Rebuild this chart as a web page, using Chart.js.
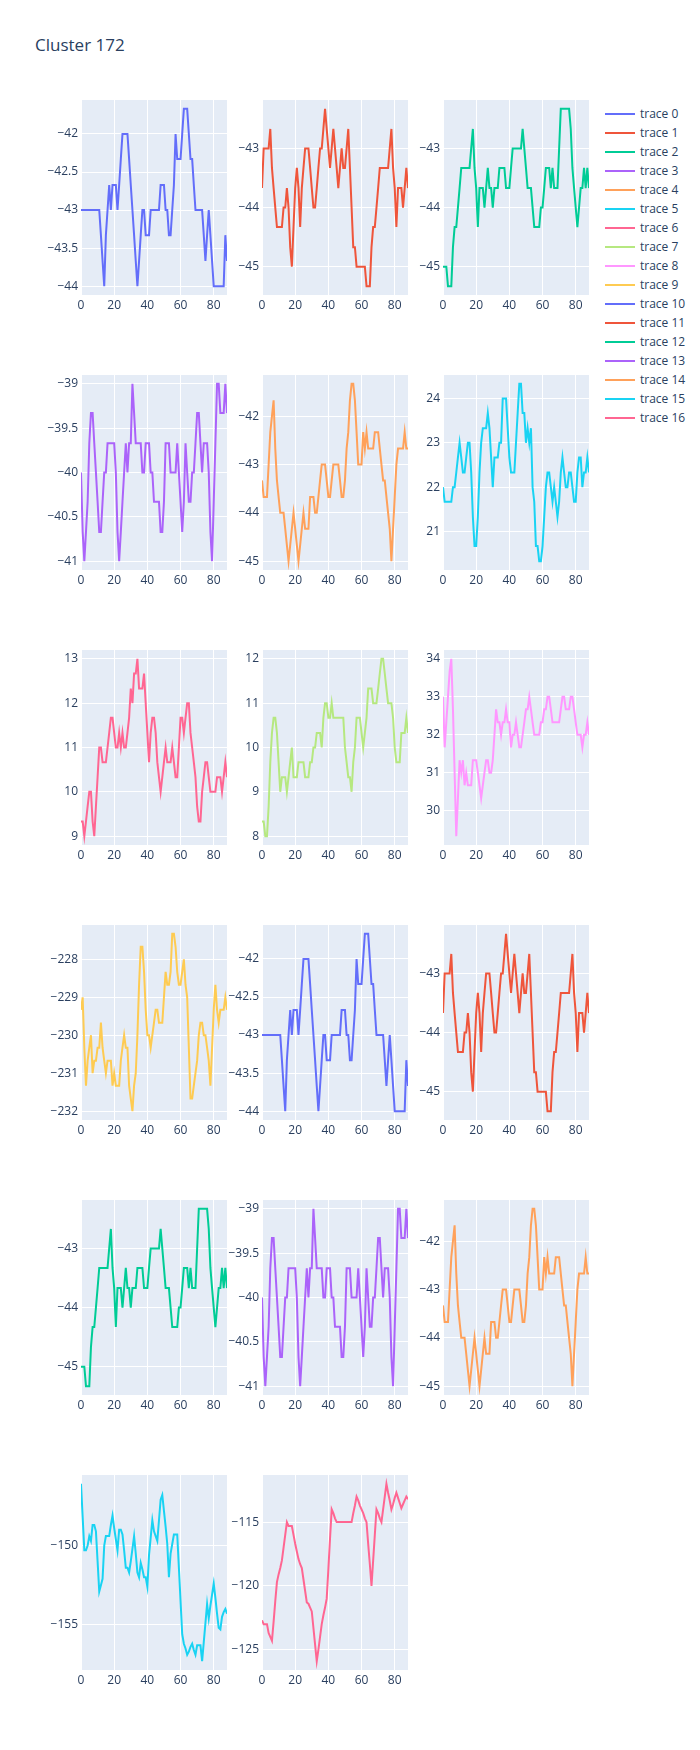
<!DOCTYPE html>
<html>
<head>
<meta charset="utf-8">
<script src="https://cdn.jsdelivr.net/npm/chart.js@4.4.1/dist/chart.umd.min.js"></script>
<style>
  body { margin: 0; background: #fff; font-family: "Open Sans", sans-serif; }
  #page { position: relative; width: 700px; height: 1750px; overflow: hidden; }
  #title { position: absolute; left: 35px; top: 33px; font-size: 17px; line-height: 24px; color: #2a3f5f; }
  .cell { position: absolute; }
  .legline { position: absolute; left: 605px; width: 30px; height: 2px; }
  .legtext { position: absolute; left: 640px; font-size: 12px; line-height: 18px; color: #2a3f5f; white-space: nowrap; }
</style>
</head>
<body>
<div id="page">
  <div id="title">Cluster 172</div>
</div>
<script>
// x positions 0..88, one per sample
const steps = Array.from({ length: 89 }, (_, i) => i);
const xTicks = [0, 20, 40, 60, 80];

const traceNames = ['trace 0', 'trace 1', 'trace 2', 'trace 3', 'trace 4', 'trace 5', 'trace 6', 'trace 7', 'trace 8',
  'trace 9', 'trace 10', 'trace 11', 'trace 12', 'trace 13', 'trace 14', 'trace 15', 'trace 16'];
const traceColors = ['#636efa', '#EF553B', '#00cc96', '#ab63fa', '#FFA15A', '#19d3f3', '#FF6692', '#B6E880', '#FF97FF',
  '#FECB52', '#636efa', '#EF553B', '#00cc96', '#ab63fa', '#FFA15A', '#19d3f3', '#FF6692'];
const yTickSteps = [0.5, 1, 1, 0.5, 1, 1, 1, 1, 1, 1, 0.5, 1, 1, 0.5, 1, 5, 5];

const trace0 = [
  -43, -43, -43, -43, -43, -43, -43, -43, -43, -43,
  -43, -43, -43.33, -43.67, -44, -43.33, -43, -42.67, -43, -42.67,
  -42.67, -42.67, -43, -42.67, -42.33, -42, -42, -42, -42, -42.33,
  -42.67, -43, -43.33, -43.67, -44, -43.67, -43.33, -43, -43, -43.33,
  -43.33, -43.33, -43, -43, -43, -43, -43, -43, -42.67, -42.67,
  -42.67, -43, -43, -43.33, -43.33, -43, -42.67, -42, -42.33, -42.33,
  -42.33, -42, -41.67, -41.67, -41.67, -42, -42.33, -42.33, -42.67, -43,
  -43, -43, -43, -43, -43.33, -43.67, -43.33, -43, -43.33, -43.67,
  -44, -44, -44, -44, -44, -44, -44, -43.33, -43.67
];
const trace1 = [
  -43.67, -43, -43, -43, -43, -42.67, -43.33, -43.67, -44, -44.33,
  -44.33, -44.33, -44.33, -44, -44, -43.67, -44, -44.67, -45, -44.33,
  -43.67, -43.33, -43.67, -44.33, -43.67, -43.33, -43, -43, -43, -43.33,
  -43.67, -44, -44, -43.67, -43.33, -43, -43, -42.67, -42.33, -42.67,
  -43, -43.33, -43, -42.67, -43, -43.33, -43.67, -43.33, -43, -43.33,
  -43.33, -43, -42.67, -43.33, -44, -44.67, -44.67, -45, -45, -45,
  -45, -45, -45, -45.33, -45.33, -45.33, -44.67, -44.33, -44.33, -44,
  -43.67, -43.33, -43.33, -43.33, -43.33, -43.33, -43.33, -43, -42.67, -43.33,
  -43.67, -44.33, -43.67, -43.67, -43.67, -44, -43.67, -43.33, -43.67
];
const trace2 = [
  -45, -45, -45, -45.33, -45.33, -45.33, -44.67, -44.33, -44.33, -44,
  -43.67, -43.33, -43.33, -43.33, -43.33, -43.33, -43.33, -43, -42.67, -43.33,
  -43.67, -44.33, -43.67, -43.67, -43.67, -44, -43.67, -43.33, -43.67, -43.67,
  -44, -43.67, -43.67, -43.67, -43.33, -43.33, -43.33, -43.33, -43.67, -43.67,
  -43.67, -43.33, -43, -43, -43, -43, -43, -43, -42.67, -43,
  -43.33, -43.67, -43.67, -43.67, -44, -44.33, -44.33, -44.33, -44.33, -44,
  -44, -43.67, -43.33, -43.33, -43.33, -43.67, -43.33, -43.67, -43.67, -43.67,
  -43, -42.33, -42.33, -42.33, -42.33, -42.33, -42.33, -42.67, -43.33, -43.67,
  -44, -44.33, -44, -43.67, -43.67, -43.33, -43.67, -43.33, -43.67
];
const trace3 = [
  -40, -40.67, -41, -40.67, -40.33, -39.67, -39.33, -39.33, -39.67, -40,
  -40.33, -40.67, -40.67, -40.33, -40, -40, -39.67, -39.67, -39.67, -39.67,
  -39.67, -40, -40.67, -41, -40.67, -40.33, -40, -39.67, -40, -39.67,
  -39.67, -39, -39.33, -39.67, -39.67, -39.67, -39.67, -40, -40, -39.67,
  -39.67, -39.67, -40, -40, -40.33, -40.33, -40.33, -40.33, -40.67, -40.67,
  -40.33, -39.67, -39.67, -39.67, -40, -40, -40, -40, -39.67, -40,
  -40.33, -40.67, -40.33, -39.67, -40, -40.33, -40.33, -40, -40, -39.67,
  -39.33, -39.33, -39.67, -40, -39.67, -39.67, -39.67, -40, -40.67, -41,
  -40.33, -39.67, -39, -39, -39.33, -39.33, -39.33, -39, -39.33
];
const trace4 = [
  -43.33, -43.67, -43.67, -43.67, -43, -42.33, -42, -41.67, -42.67, -43.33,
  -43.67, -44, -44, -44, -44.33, -44.67, -45, -44.67, -44.33, -44,
  -44.33, -44.67, -45, -44.67, -44.33, -44, -44.33, -44.33, -44.33, -43.67,
  -43.67, -43.67, -44, -44, -43.67, -43.33, -43, -43, -43, -43.33,
  -43.67, -43.67, -43.33, -43, -43, -43, -43, -43.33, -43.67, -43.67,
  -43.33, -42.67, -42.33, -41.67, -41.33, -41.33, -41.67, -42.33, -43, -43,
  -43, -42.33, -42.67, -42.33, -42.67, -42.67, -42.67, -42.67, -42.33, -42.33,
  -42.33, -42.67, -43, -43.33, -43.33, -43.67, -44, -44.33, -45, -44.33,
  -43.67, -43, -42.67, -42.67, -42.67, -42.67, -42.33, -42.67, -42.67
];
const trace5 = [
  22, 21.67, 21.67, 21.67, 21.67, 21.67, 22, 22, 22.33, 22.67,
  23, 22.67, 22.33, 22.33, 22.67, 23, 23, 22.33, 21.33, 20.67,
  20.67, 21.33, 22.33, 23, 23.33, 23.33, 23.33, 23.67, 23.33, 22.67,
  22, 22.67, 22.67, 22.67, 23, 23, 24, 24, 24, 23.33,
  22.67, 22.33, 22.33, 22.33, 23, 23.67, 24.33, 24.33, 23.67, 23.67,
  23, 23.33, 23, 23.33, 22, 21.67, 20.67, 20.67, 20.33, 20.33,
  20.67, 21.33, 22, 22.33, 22.33, 22, 21.67, 22, 21.67, 21.33,
  21.67, 22.33, 22.67, 22.33, 22, 22, 22.33, 22.33, 22, 21.67,
  21.67, 22.33, 22.67, 22.67, 22, 22.33, 22.33, 22.67, 22.33
];
const trace6 = [
  9.33, 9.33, 9, 9.33, 9.67, 10, 10, 9.33, 9, 9.67,
  10.33, 11, 11, 10.67, 10.67, 10.67, 11, 11.33, 11.67, 11.67,
  11.33, 11, 11, 11.33, 11, 11.33, 11, 11, 11.33, 11.67,
  12.33, 12, 12.67, 12.67, 13, 12.33, 12.33, 12.33, 12.67, 12,
  11.33, 10.67, 11.33, 11.67, 11.67, 11.33, 10.67, 10.33, 10, 10.33,
  10.67, 11, 10.67, 10.67, 10.67, 11, 10.67, 10.33, 10.33, 11,
  11.67, 11.67, 11.33, 11.67, 12, 12, 11.33, 11, 10.67, 10.33,
  9.67, 9.33, 9.33, 10, 10.33, 10.67, 10.67, 10.33, 10, 10,
  10, 10, 10.33, 10.33, 10.33, 10, 10.33, 10.67, 10.33
];
const trace7 = [
  8.33, 8.33, 8, 8, 8.67, 9.67, 10.33, 10.67, 10.67, 10.33,
  9.67, 9, 9.33, 9.33, 9.33, 9, 9.33, 9.67, 10, 9.33,
  9.33, 9.33, 9.67, 9.67, 9.67, 9.67, 9.33, 9.33, 9.33, 9.67,
  9.67, 10, 10, 10.33, 10.33, 10.33, 10, 10.67, 11, 11,
  10.67, 10.67, 11, 10.67, 10.67, 10.67, 10.67, 10.67, 10.67, 10.67,
  10, 9.67, 9.33, 9.33, 9, 9.67, 10, 10.67, 10.67, 10.67,
  10.33, 10, 10.33, 10.67, 11.33, 11.33, 11.33, 11, 11, 11,
  11.33, 11.67, 12, 12, 11.67, 11.33, 11, 11, 11, 10.67,
  10, 9.67, 9.67, 9.67, 10.33, 10.33, 10.33, 10.67, 10.33
];
const trace8 = [
  33, 31.67, 32.33, 33, 33.67, 34, 32.67, 31, 29.33, 30.33,
  31.33, 31, 31.33, 30.67, 31, 30.67, 30.67, 30.67, 31.33, 31.33,
  31.33, 31, 30.67, 30.33, 30.67, 31, 31.33, 31.33, 31, 31,
  31.33, 32, 32.67, 32.33, 32.33, 32, 32.33, 32.33, 32.67, 32.33,
  32.33, 31.67, 32, 32, 32.33, 32, 31.67, 31.67, 32, 32.33,
  32.67, 32.67, 33, 32.67, 32.33, 32, 32, 32, 32, 32.33,
  32.33, 32.67, 32.67, 33, 33, 32.67, 32.33, 32.33, 32.33, 32.33,
  32.33, 32.67, 33, 33, 32.67, 32.67, 32.67, 33, 33, 32.67,
  32.33, 32, 32, 32, 31.67, 32, 32, 32.33, 32
];
const trace9 = [
  -229.33, -229, -230.33, -231.33, -230.67, -230.33, -230, -231, -230.67, -230.67,
  -230.33, -230.33, -229.67, -230.33, -230.67, -231, -230.67, -230.67, -230.67, -231.33,
  -231, -231.33, -231.33, -231.33, -230.67, -230.33, -230, -230.33, -230.33, -231.33,
  -231.67, -232, -231.33, -231, -230, -228.67, -227.67, -227.67, -228.33, -229.33,
  -230, -230, -230.33, -230, -229.67, -229.33, -229.33, -229.67, -229.67, -229.67,
  -229, -228.33, -228.67, -228.67, -228.33, -227.33, -227.33, -227.67, -228.33, -228.67,
  -228.67, -228.33, -228, -228.67, -229, -230.33, -231.67, -231.67, -231.33, -231,
  -230.67, -230, -229.67, -229.67, -230, -230, -230.33, -230.67, -231.33, -230.33,
  -229.33, -228.67, -229.33, -229.67, -229.33, -229.33, -229.33, -229, -229.33
];
// traces 10 to 14 repeat traces 0 to 4 in the picture
const trace10 = trace0.slice();
const trace11 = trace1.slice();
const trace12 = trace2.slice();
const trace13 = trace3.slice();
const trace14 = trace4.slice();
const trace15 = [
  -146.1, -148.2, -150.3, -150.3, -150, -149.4, -149.7, -148.7, -148.7, -149.1,
  -151, -152.9, -152.5, -152.1, -150, -149.4, -149.4, -149.4, -148.7, -148.1,
  -148.9, -149.6, -150.3, -149, -149, -149.3, -150.3, -151.4, -151.4, -151.7,
  -151, -150.2, -149.4, -150.5, -151.7, -152, -151.1, -151.5, -152, -152,
  -152.6, -150.6, -149.5, -148.4, -149.1, -149.4, -149.7, -148.4, -147.1, -146.8,
  -147.8, -148.8, -149.9, -152, -150.5, -149.9, -149.3, -149.3, -149.3, -151.4,
  -153.5, -155.6, -156.2, -156.5, -156.9, -156.7, -156.4, -156.2, -156.6, -156.9,
  -156.3, -156.3, -156.3, -157.3, -156.1, -154.9, -153.7, -154.6, -153.8, -153.1,
  -152.4, -153.3, -154.3, -155.2, -155.3, -154.5, -154.2, -154, -154.3
];
const trace16 = [
  -122.7, -123, -123, -123, -123.7, -124, -124.3, -122.8, -121.2, -119.7,
  -119.1, -118.6, -118, -117, -116, -115, -115.3, -115.3, -115.3, -116,
  -116.7, -117.3, -117.9, -118.3, -118.6, -119.5, -120.4, -121.3, -121.4, -121.7,
  -122, -123.3, -124.6, -125.9, -125, -124, -123, -122.3, -121.7, -121,
  -118.7, -116.3, -114, -114.3, -114.7, -115, -115, -115, -115, -115,
  -115, -115, -115, -115, -115, -114.3, -113.7, -113, -113.3, -113.7,
  -114, -114.3, -114.7, -115, -116.7, -118.3, -120, -118, -116, -114,
  -114.3, -114.7, -115, -114, -113, -112, -112.7, -113.3, -114, -113.6,
  -113.1, -112.7, -113.1, -113.5, -113.9, -113.6, -113.3, -113, -113.2
];

const series = [trace0, trace1, trace2, trace3, trace4, trace5, trace6, trace7, trace8,
  trace9, trace10, trace11, trace12, trace13, trace14, trace15, trace16];

// subplot grid (plot areas in page pixels)
const colLeft = [81, 262, 443];
const rowTop = [100, 375, 650, 925, 1200, 1475];
const plotW = 146, plotH = 195;
const axisW = 60, axisH = 25, padTop = 12;

Chart.defaults.font.family = '"Open Sans", sans-serif';
Chart.defaults.font.size = 12;
Chart.defaults.color = '#2a3f5f';

const plotBg = {
  id: 'plotBg',
  beforeDraw(chart) {
    const { ctx, chartArea: a } = chart;
    ctx.save();
    ctx.fillStyle = '#E5ECF6';
    ctx.fillRect(a.left, a.top, a.right - a.left, a.bottom - a.top);
    ctx.restore();
  }
};

const fmt = v => String(Math.round(v * 1000) / 1000).replace('-', '\u2212');

const page = document.getElementById('page');

series.forEach((values, i) => {
  const col = i % 3, row = Math.floor(i / 3);
  const wrap = document.createElement('div');
  wrap.className = 'cell';
  wrap.style.left = (colLeft[col] - axisW) + 'px';
  wrap.style.top = (rowTop[row] - padTop) + 'px';
  const w = plotW + axisW, h = plotH + axisH + padTop;
  wrap.style.width = w + 'px';
  wrap.style.height = h + 'px';
  const canvas = document.createElement('canvas');
  canvas.width = w;
  canvas.height = h;
  canvas.style.width = w + 'px';
  canvas.style.height = h + 'px';
  wrap.appendChild(canvas);
  page.appendChild(wrap);

  const lo = Math.min(...values), hi = Math.max(...values);
  const pad = (hi - lo) * 0.05;

  new Chart(canvas, {
    type: 'line',
    data: {
      labels: steps,
      datasets: [{
        label: traceNames[i],
        data: values,
        borderColor: traceColors[i],
        borderWidth: 2,
        pointRadius: 0,
        tension: 0,
        fill: false
      }]
    },
    options: {
      responsive: false,
      animation: false,
      events: [],
      layout: { padding: { top: padTop, left: 0, right: 0, bottom: 0 } },
      plugins: { legend: { display: false }, tooltip: { enabled: false } },
      scales: {
        x: {
          type: 'linear',
          min: 0,
          max: steps[steps.length - 1],
          afterFit(s) { s.height = axisH; },
          afterBuildTicks(s) { s.ticks = xTicks.map(v => ({ value: v })); },
          grid: {
            color: '#ffffff',
            lineWidth: c => (c.tick && c.tick.value === 0 ? 2 : 1),
            drawTicks: false
          },
          border: { display: false },
          ticks: { padding: 3, maxRotation: 0, autoSkip: false, callback: v => fmt(v) }
        },
        y: {
          type: 'linear',
          min: lo - pad,
          max: hi + pad,
          afterFit(s) { s.width = axisW; },
          grid: { color: '#ffffff', lineWidth: 1, drawTicks: false },
          border: { display: false },
          ticks: { stepSize: yTickSteps[i], includeBounds: false, padding: 3, autoSkip: false, callback: v => fmt(v) }
        }
      }
    },
    plugins: [plotBg]
  });
});

// legend column at the right
traceNames.forEach((name, i) => {
  const cy = 114 + 19 * i;
  const line = document.createElement('div');
  line.className = 'legline';
  line.style.top = (cy - 1) + 'px';
  line.style.background = traceColors[i];
  const txt = document.createElement('div');
  txt.className = 'legtext';
  txt.style.top = (cy - 9) + 'px';
  txt.textContent = name;
  page.appendChild(line);
  page.appendChild(txt);
});
</script>
</body>
</html>
